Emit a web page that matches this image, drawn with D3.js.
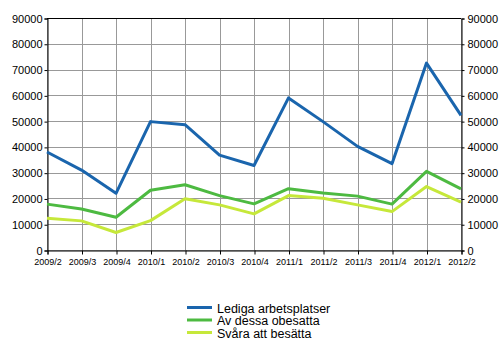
<!DOCTYPE html>
<html>
<head>
<meta charset="utf-8">
<script src="https://cdn.jsdelivr.net/npm/d3@7"></script>
<style>
  html, body { margin: 0; padding: 0; background: #fff; }
  svg { display: block; font-family: "Liberation Sans", Arial, sans-serif; }
</style>
</head>
<body>
<svg id="chart" width="500" height="350"></svg>
<script>
// Quarterly periods
const periods = ["2009/2","2009/3","2009/4","2010/1","2010/2","2010/3","2010/4",
                 "2011/1","2011/2","2011/3","2011/4","2012/1","2012/2"];

// Vacancies, all
const lediga = [38000, 31000, 22000, 49800, 48600, 36800, 32800,
                59000, 49800, 40200, 33500, 72500, 52200];
// Of which unfilled
const obesatta = [17800, 15900, 12700, 23200, 25300, 21100, 17900,
                  23800, 22100, 20900, 17800, 30500, 23700];
// Hard to fill
const svara = [12300, 11300, 6800, 11400, 19900, 17500, 14000,
               21100, 20100, 17500, 14900, 24600, 18600];

const yTicks = [0, 10000, 20000, 30000, 40000, 50000, 60000, 70000, 80000, 90000];

const seriesNames = ["Lediga arbetsplatser", "Av dessa obesatta", "Svåra att besätta"];
const seriesColors = ["#1a65ad", "#4dba41", "#c6e83a"];

const series = [lediga, obesatta, svara];

const svg = d3.select("#chart");
const plotLeft = 47, plotRight = 461, plotTop = 18, plotBottom = 250;

const x = d3.scalePoint().domain(periods).range([plotLeft, plotRight]);
const y = d3.scaleLinear().domain([0, 90000]).range([plotBottom, plotTop]);

// Grid
const grid = svg.append("g");
grid.selectAll("line.h").data(yTicks).join("line")
  .attr("x1", plotLeft).attr("x2", plotRight)
  .attr("y1", d => Math.round(y(d)) + 0.5).attr("y2", d => Math.round(y(d)) + 0.5)
  .attr("stroke", "#999").attr("stroke-width", 1);
grid.selectAll("line.v").data(periods).join("line")
  .attr("x1", d => Math.round(x(d)) + 0.5).attr("x2", d => Math.round(x(d)) + 0.5)
  .attr("y1", plotTop).attr("y2", plotBottom)
  .attr("stroke", "#999").attr("stroke-width", 1);

// Top border
svg.append("line").attr("x1", plotLeft).attr("x2", plotRight)
  .attr("y1", plotTop + 0.5).attr("y2", plotTop + 0.5).attr("stroke", "#000");

// Axes
const axisFmt = d3.format("d");
const yLeft = svg.append("g").attr("transform", `translate(${plotLeft + 0.5},0.5)`)
  .call(d3.axisLeft(y).tickValues(yTicks).tickFormat(axisFmt).tickSize(3).tickPadding(2));
const yRight = svg.append("g").attr("transform", `translate(${plotRight + 0.5},0.5)`)
  .call(d3.axisRight(y).tickValues(yTicks).tickFormat(axisFmt).tickSize(3).tickPadding(3));
const xAxis = svg.append("g").attr("transform", `translate(0.5,${plotBottom + 0.5})`)
  .call(d3.axisBottom(x).tickSize(4).tickPadding(4));

[yLeft, yRight].forEach(g => {
  g.select(".domain").attr("stroke", "#000");
  g.selectAll(".tick line").attr("stroke", "#000");
  g.selectAll("text").attr("fill", "#000").style("font-size", "11px")
    .style("font-family", "'Liberation Sans', Arial, sans-serif");
});
xAxis.select(".domain").attr("stroke", "#000");
xAxis.selectAll(".tick line").attr("stroke", "#000");
xAxis.selectAll("text").attr("fill", "#000").style("font-size", "9px")
  .style("font-family", "'Liberation Sans', Arial, sans-serif");

// Lines
const line = d3.line().x((d, i) => x(periods[i])).y(d => y(d));
svg.append("g").selectAll("path").data(series.map((s, i) => ({ s, i })).reverse()).join("path")
  .attr("d", d => line(d.s))
  .attr("fill", "none")
  .attr("stroke", d => seriesColors[d.i])
  .attr("stroke-width", 3)
  .attr("stroke-linejoin", "round");

// Legend
const legend = svg.append("g");
seriesNames.forEach((name, i) => {
  const ly = 307.5 + i * 12.5;
  legend.append("line").attr("x1", 187).attr("x2", 212)
    .attr("y1", ly).attr("y2", ly)
    .attr("stroke", seriesColors[i]).attr("stroke-width", 3);
  legend.append("text").attr("x", 217).attr("y", ly + 5)
    .style("font-size", "12.5px").attr("fill", "#000").text(name);
});
</script>
</body>
</html>
